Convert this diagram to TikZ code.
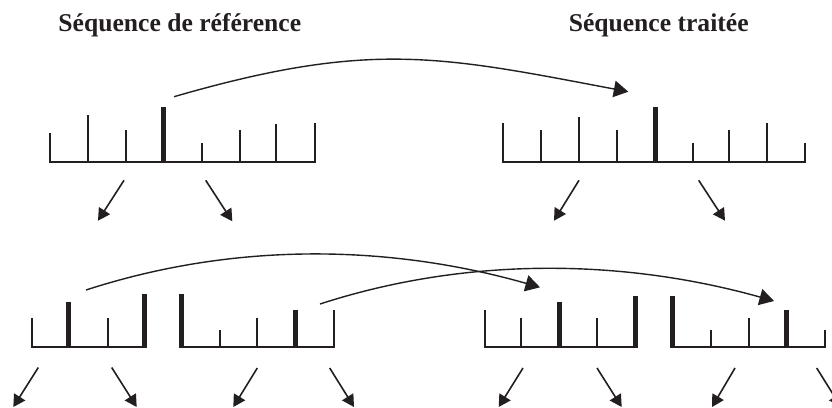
\documentclass[tikz,border=0pt]{standalone}
\usepackage{fontspec}
\setmainfont{Liberation Serif}
\usetikzlibrary{arrows.meta}
\definecolor{ink}{HTML}{231F20}
\tikzset{
  thintick/.style={draw=ink,line width=1.7pt},
  thicktick/.style={draw=ink,line width=5pt},
  baseln/.style={draw=ink,line width=1.8pt,line cap=rect},
  smallarrow/.style={draw=ink,line width=1.6pt,-{Triangle[length=12pt,width=13pt]}},
  bigarrow/.style={draw=ink,line width=1.4pt,-{Triangle[length=14.5pt,width=16.5pt]}},
  title/.style={text=ink,font=\fontsize{25.6}{30}\selectfont\bfseries,anchor=base,inner sep=0pt}
}
\begin{document}
\begin{tikzpicture}[x=1pt,y=-1pt]
\clip (0,0) rectangle (832,407);
\fill[white] (0,0) rectangle (832,407);
% titles
\node[title] (t1) at (179.8,31.7) {Séquence de référence};
\node[title] (t2) at (658.7,31.7) {Séquence traitée};
% baselines
\newcommand{\seqdraw}[3]{%
  \draw[baseln] (#2,#1) -- (#3,#1);}
% top-left
\seqdraw{162.3}{50}{315.3}
\foreach \x/\t/\w in {50/132.7/0,87.7/114.7/0,125.7/130.3/0,163.7/106.7/1,201.7/142.7/0,239.7/130.3/0,275.7/124.3/0,315.3/122.7/0}{
  \ifnum\w=1 \draw[thicktick] (\x,163.2) -- (\x,\t); \else \draw[thintick] (\x,163.2) -- (\x,\t); \fi}
% top-right
\seqdraw{162.3}{502.7}{805}
\foreach \x/\t/\w in {502.7/122.7/0,540.7/130.3/0,579/116.7/0,617/130.3/0,655/106.7/1,692.7/142.7/0,729/130.3/0,767/122.7/0,805/142.7/0}{
  \ifnum\w=1 \draw[thicktick] (\x,163.2) -- (\x,\t); \else \draw[thintick] (\x,163.2) -- (\x,\t); \fi}
% bottom groups
\seqdraw{347.3}{32}{144}
\seqdraw{347.3}{181.7}{333.7}
\seqdraw{347.3}{485.3}{635.3}
\seqdraw{347.3}{672.7}{825}
\foreach \x/\t/\w in {32/318.3/0,68/302.3/1,107.7/318.3/0,144/294/1,
  181.7/294/1,219.7/330/0,257.3/318.3/0,295.3/310/1,333.7/310/0,
  485.3/310/0,521.3/318.3/0,559/302.3/1,597/318.3/0,635.3/296.3/1,
  672.7/296.3/1,711/330/0,749/318.3/0,786.7/310/1,825/330/0}{
  \ifnum\w=1 \draw[thicktick] (\x,348.4) -- (\x,\t); \else \draw[thintick] (\x,348.2) -- (\x,\t); \fi}
% small arrow endpoints
\coordinate (a1s) at (124,180.3);   \coordinate (a1e) at (98,220.7);
\coordinate (a2s) at (205.7,180.3); \coordinate (a2e) at (232.3,221.3);
\coordinate (a3s) at (579,180.3);   \coordinate (a3e) at (554,220.7);
\coordinate (a4s) at (698.7,180.3); \coordinate (a4e) at (725,220.7);
\coordinate (b1s) at (38.3,367.5);  \coordinate (b1e) at (13.3,407);
\coordinate (b2s) at (111.7,367.5); \coordinate (b2e) at (136.7,407);
\coordinate (b3s) at (257.3,368);   \coordinate (b3e) at (233.3,407);
\coordinate (b4s) at (329.7,368);   \coordinate (b4e) at (354,407);
\coordinate (b5s) at (523,368);     \coordinate (b5e) at (498.7,407);
\coordinate (b6s) at (597,368);     \coordinate (b6e) at (621.7,407);
\coordinate (b7s) at (735,368);     \coordinate (b7e) at (712,407);
\coordinate (b8s) at (816.7,368);   \coordinate (b8e) at (841,407);
\foreach \n in {a1,a2,a3,a4,b1,b2,b3,b4,b5,b6,b7,b8}{
  \draw[smallarrow] (\n s) -- (\n e);}
% curved arrows
\coordinate (c1s) at (174,96.7);  \coordinate (c1e) at (628.3,91.7);
\coordinate (c2s) at (86,290);    \coordinate (c2e) at (540,287.3);
\coordinate (c3s) at (320,304);   \coordinate (c3e) at (774,301);
\draw[bigarrow] (c1s) .. controls (370,40) and (440,56) .. (c1e);
\draw[bigarrow] (c2s) .. controls (240,240) and (395,246) .. (c2e);
\draw[bigarrow] (c3s) .. controls (471,255) and (628,260) .. (c3e);
\end{tikzpicture}
\end{document}
